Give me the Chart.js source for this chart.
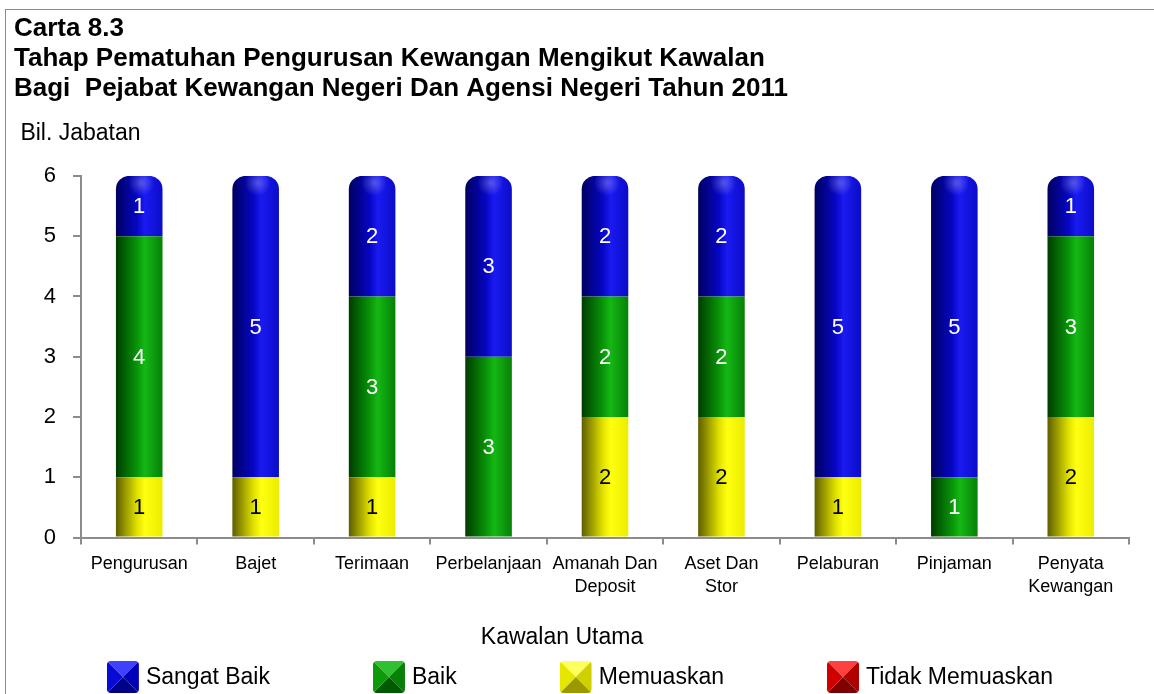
<!DOCTYPE html>
<html>
<head>
<meta charset="utf-8">
<script src="https://cdn.jsdelivr.net/npm/chart.js@4/dist/chart.umd.min.js"></script>
<style>
  body { margin: 0; background: #fff; }
  #frame { position: absolute; left: 5px; top: 9px; width: 1148px; height: 684px;
           border-top: 1px solid #e8731f; border-left: 1px solid #e8731f; }
  #box { position: relative; width: 1148px; height: 684px; }
</style>
</head>
<body>
<div id="frame"><div id="box"><canvas id="carta"></canvas></div></div>
<script>
// Data
var KAWALAN = ['Pengurusan', 'Bajet', 'Terimaan', 'Perbelanjaan', ['Amanah Dan', 'Deposit'],
               ['Aset Dan', 'Stor'], 'Pelaburan', 'Pinjaman', ['Penyata', 'Kewangan']];
var TIDAK_MEMUASKAN = [0, 0, 0, 0, 0, 0, 0, 0, 0];
var MEMUASKAN       = [1, 1, 1, 0, 2, 2, 1, 0, 2];
var BAIK            = [4, 0, 3, 3, 2, 2, 0, 1, 3];
var SANGAT_BAIK     = [1, 5, 2, 3, 2, 2, 5, 5, 1];
var Y_MIN = 0, Y_MAX = 6, Y_STEP = 1;
var X_TITLE = 'Kawalan Utama';

var FONT = '"Liberation Sans", Arial, sans-serif';
var BAR_PCT = 0.4;

// colours: gradient stops across the bar, label colour, legend icon faces
var STYLE = {
    red:    { stops: ['#6a0000', '#d01010', '#ff2a2a', '#c00000'], text: '#fff',
              icon: ['#ff4040', '#d00000', '#b00000', '#800000'] },
    yellow: { stops: ['#5e5e00', '#e0e000', '#ffff10', '#ecec00'], text: '#000',
              icon: ['#ffff60', '#e6e600', '#d0d000', '#9a9a00'] },
    green:  { stops: ['#003c00', '#089408', '#14b814', '#078007'], text: '#fff',
              icon: ['#30c030', '#0a9a0a', '#088008', '#005a00'] },
    blue:   { stops: ['#000060', '#0606c4', '#1a1af2', '#0c0cc8'], text: '#fff',
              icon: ['#4040ff', '#0a0ad8', '#0000b8', '#000088'] }
};

var SERIES = [TIDAK_MEMUASKAN, MEMUASKAN, BAIK, SANGAT_BAIK];

function barFill(ctx) {
    var st = STYLE[ctx.dataset.colorKey];
    var sx = ctx.chart.scales.x;
    if (ctx.type !== 'data' || !sx || !(sx.width > 0)) return st.stops[1];
    var cx = sx.getPixelForValue(ctx.dataIndex);
    var half = sx.width / KAWALAN.length * BAR_PCT / 2;
    if (!isFinite(cx) || !isFinite(half)) return st.stops[1];
    var g = ctx.chart.ctx.createLinearGradient(cx - half, 0, cx + half, 0);
    g.addColorStop(0, st.stops[0]);
    g.addColorStop(0.45, st.stops[1]);
    g.addColorStop(0.62, st.stops[2]);
    g.addColorStop(1, st.stops[3]);
    return g;
}

function isTop(ctx) {
    var i = ctx.dataIndex;
    if (!SERIES[ctx.datasetIndex][i]) return false;
    for (var d = ctx.datasetIndex + 1; d < SERIES.length; d++) {
        if (SERIES[d][i]) return false;
    }
    return true;
}

function radius(ctx) {
    if (ctx.type !== 'data') return 0;
    return isTop(ctx) ? { topLeft: 13, topRight: 13, bottomLeft: 0, bottomRight: 0 } : 0;
}

// value labels in the middle of each segment + soft highlight on the caps
var segmentLabels = {
    id: 'segmentLabels',
    afterDatasetsDraw: function(chart) {
        var c = chart.ctx;
        c.save();
        chart.data.datasets.forEach(function(ds, di) {
            var meta = chart.getDatasetMeta(di);
            meta.data.forEach(function(el, i) {
                var v = ds.data[i];
                if (!v) return;
                if (isTop({ dataIndex: i, datasetIndex: di })) {
                    var rg = c.createRadialGradient(el.x + 2, el.y + 7, 0, el.x + 2, el.y + 7, 13);
                    rg.addColorStop(0, 'rgba(255,255,255,0.28)');
                    rg.addColorStop(1, 'rgba(255,255,255,0)');
                    c.fillStyle = rg;
                    c.fillRect(el.x - 14, el.y, 28, 22);
                }
                c.font = '22px ' + FONT;
                c.fillStyle = STYLE[ds.colorKey].text;
                c.textAlign = 'center';
                c.textBaseline = 'middle';
                c.fillText(String(v), el.x, (el.y + el.base) / 2 + 1);
            });
        });
        c.restore();
    }
};

function drawIcon(c, x, y, s, faces) {
    var cx = x + s / 2, cy = y + s / 2;
    c.save();
    c.beginPath();
    c.roundRect(x, y, s, s, 4);
    c.clip();
    var tris = [
        [[x, y], [x + s, y], faces[0]],
        [[x + s, y], [x + s, y + s], faces[2]],
        [[x + s, y + s], [x, y + s], faces[3]],
        [[x, y + s], [x, y], faces[1]]
    ];
    tris.forEach(function(t) {
        c.beginPath();
        c.moveTo(t[0][0], t[0][1]);
        c.lineTo(t[1][0], t[1][1]);
        c.lineTo(cx, cy);
        c.closePath();
        c.fillStyle = t[2];
        c.fill();
    });
    c.restore();
}

// axis caption + legend along the bottom, Sangat Baik first
var legend3d = {
    id: 'legend3d',
    afterDraw: function(chart) {
        var c = chart.ctx;
        var ds = chart.data.datasets.slice().reverse();
        var box = 32, gapText = 7, gap = 103;
        c.save();
        c.font = '23px ' + FONT;
        c.fillStyle = '#000';
        c.textAlign = 'center';
        c.textBaseline = 'middle';
        c.fillText(X_TITLE, chart.width / 2 - 18, chart.height - 56);

        var widths = ds.map(function(d) { return box + gapText + c.measureText(d.label).width; });
        var total = widths.reduce(function(a, b) { return a + b; }, 0) + gap * (ds.length - 1);
        var x = (chart.width - total) / 2;
        var yMid = chart.height - 17;
        ds.forEach(function(d, i) {
            drawIcon(c, x, yMid - box / 2, box, STYLE[d.colorKey].icon);
            c.fillStyle = '#000';
            c.textAlign = 'left';
            c.textBaseline = 'middle';
            c.fillText(d.label, x + box + gapText, yMid + 1);
            x += widths[i] + gap;
        });
        c.restore();
    }
};

var ctx = document.getElementById('carta').getContext('2d');
var carta = new Chart(ctx, {
    type: 'bar',
    data: {
        labels: KAWALAN,
        datasets: [
            { label: 'Tidak Memuaskan', data: TIDAK_MEMUASKAN, colorKey: 'red' },
            { label: 'Memuaskan', data: MEMUASKAN, colorKey: 'yellow' },
            { label: 'Baik', data: BAIK, colorKey: 'green' },
            { label: 'Sangat Baik', data: SANGAT_BAIK, colorKey: 'blue' }
        ]
    },
    options: {
        responsive: true,
        maintainAspectRatio: false,
        animation: false,
        categoryPercentage: 1,
        barPercentage: BAR_PCT,
        backgroundColor: barFill,
        borderWidth: 0,
        borderSkipped: false,
        borderRadius: radius,
        layout: { padding: { left: 8, right: 25, top: 0, bottom: 87.4 } },
        plugins: {
            legend: { display: false },
            tooltip: { enabled: false },
            title: {
                display: true,
                align: 'start',
                text: ['Carta 8.3',
                       'Tahap Pematuhan Pengurusan Kewangan Mengikut Kawalan',
                       'Bagi  Pejabat Kewangan Negeri Dan Agensi Negeri Tahun 2011'],
                color: '#000',
                font: { family: FONT, size: 26, weight: 'bold', lineHeight: 30 / 26 },
                padding: { top: 4, bottom: 8 }
            },
            subtitle: {
                display: true,
                align: 'start',
                text: ' Bil. Jabatan',
                color: '#000',
                font: { family: FONT, size: 23, lineHeight: 26.4 / 23 },
                padding: { top: 8, bottom: 29.5 }
            }
        },
        scales: {
            x: {
                stacked: true,
                grid: { drawOnChartArea: false, drawTicks: true, tickLength: 7, color: '#8c8c8c', lineWidth: 2, offset: true },
                border: { color: '#8c8c8c', width: 2 },
                ticks: { color: '#000', autoSkip: false, maxRotation: 0, padding: 8,
                         font: { family: FONT, size: 18, lineHeight: 23 / 18 } }
            },
            y: {
                stacked: true,
                min: Y_MIN,
                max: Y_MAX,
                afterFit: function(s) { s.width = 67; },
                grid: { drawOnChartArea: false, drawTicks: true, tickLength: 8, color: '#8c8c8c', lineWidth: 2 },
                border: { color: '#8c8c8c', width: 2 },
                ticks: { stepSize: Y_STEP, color: '#000', padding: 17,
                         font: { family: FONT, size: 22 } }
            }
        }
    },
    plugins: [segmentLabels, legend3d]
});
</script>
</body>
</html>
